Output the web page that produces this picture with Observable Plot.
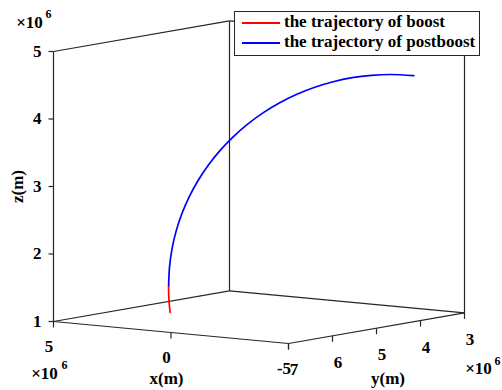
<!DOCTYPE html>
<html>
<head>
<meta charset="utf-8">
<script src="https://cdn.jsdelivr.net/npm/d3@7"></script>
<script src="https://cdn.jsdelivr.net/npm/@observablehq/plot@0.6"></script>
<style>
  html, body { margin: 0; padding: 0; background: #fff; }
  #wrap { position: relative; width: 502px; height: 390px; font-family: "Liberation Serif", "Times New Roman", serif; }
  #wrap svg text { font-family: "Liberation Serif", "Times New Roman", serif; }
  #legend { position: absolute; left: 234px; top: 11px; width: 246px; height: 45px; box-sizing: border-box;
            border: 1px solid #262626; background: #fff; font-weight: bold; font-size: 17px; color: #000; }
  #legend .row { position: absolute; left: 0; height: 20px; }
  #legend .row span { position: absolute; left: 49px; white-space: nowrap; line-height: 20px; top: 0; }
  #legend svg { position: absolute; left: 7px; top: 0; }
</style>
</head>
<body>
<div id="wrap"></div>
<script>
// ---- data (all lengths in units of 10^6 m) ----
const xLim = [-5, 5];
const yLim = [3, 7];
const zLim = [1, 5];
const xTicks = [5, 0, -5];
const yTicks = [7, 6, 5, 4, 3];
const zTicks = [1, 2, 3, 4, 5];
const seriesNames = ["the trajectory of boost", "the trajectory of postboost"];
const seriesColors = ["#ff0000", "#0000ff"];

const boostX = [0.079, 0.093, 0.100, 0.100];
const boostY = [6.977, 6.993, 7.000, 7.000];
const boostZ = [1.291, 1.441, 1.575, 1.693];

const postX = [0.100, 0.088, 0.052, -0.008, -0.091, -0.197, -0.325, -0.474, -0.642, -0.829,
               -1.033, -1.253, -1.486, -1.732, -1.987, -2.251, -2.521, -2.796, -3.072, -3.400];
const postY = [7.000, 6.987, 6.949, 6.886, 6.798, 6.686, 6.551, 6.394, 6.215, 6.018,
               5.802, 5.570, 5.323, 5.064, 4.794, 4.515, 4.229, 3.939, 3.647, 3.300];
const postZ = [1.693, 1.964, 2.232, 2.493, 2.746, 2.988, 3.219, 3.436, 3.638, 3.822,
               3.989, 4.136, 4.262, 4.366, 4.448, 4.507, 4.543, 4.554, 4.542, 4.497];

// ---- 3D view (orthographic projection, seen from the far side) ----
const W = 502, H = 390;
const view = { origin: [53, 321], ex: [23.5, 2.2], ey: [44, -7.65], ez: [0, -67.5] };
function proj(x, y, z) {
  const a = xLim[1] - x, b = yLim[1] - y, c = z - zLim[0];
  return [view.origin[0] + a * view.ex[0] + b * view.ey[0] + c * view.ez[0],
          view.origin[1] + a * view.ex[1] + b * view.ey[1] + c * view.ez[1]];
}

// trajectories
const traj = [];
boostX.forEach((v, i) => { const p = proj(v, boostY[i], boostZ[i]); traj.push({s: seriesNames[0], px: p[0], py: p[1]}); });
postX.forEach((v, i) => { const p = proj(v, postY[i], postZ[i]); traj.push({s: seriesNames[1], px: p[0], py: p[1]}); });

// box edges
const [x0, x1] = [xLim[1], xLim[0]], [y0, y1] = [yLim[1], yLim[0]], [z0, z1] = zLim;
const edges3 = [
  [[x0, y0, z0], [x0, y0, z1]],
  [[x0, y0, z1], [x0, y1, z1]],
  [[x0, y1, z1], [x1, y1, z1]],
  [[x0, y1, z0], [x0, y1, z1]],
  [[x1, y1, z0], [x1, y1, z1]],
  [[x0, y0, z0], [x0, y1, z0]],
  [[x0, y1, z0], [x1, y1, z0]],
  [[x0, y0, z0], [x1, y0, z0]],
  [[x1, y0, z0], [x1, y1, z0]]
];
const edges = edges3.map(([a, b]) => { const p = proj(...a), q = proj(...b); return {x1: p[0], y1: p[1], x2: q[0], y2: q[1]}; });

const TL = 6;
const ticks = [
  ...zTicks.map(z => { const p = proj(x0, y0, z); return {x1: p[0] - 5, y1: p[1], x2: p[0], y2: p[1]}; }),
  ...xTicks.map(x => { const p = proj(x, y0, z0); return {x1: p[0], y1: p[1], x2: p[0], y2: p[1] + TL}; }),
  ...yTicks.map(y => { const p = proj(x1, y, z0); return {x1: p[0], y1: p[1], x2: p[0], y2: p[1] + TL}; })
];
const zLabels = zTicks.map(z => { const p = proj(x0, y0, z); return {px: p[0], py: p[1], t: String(z)}; });
const xLabels = xTicks.map(x => { const p = proj(x, y0, z0); return {px: p[0], py: p[1], t: String(x)}; });
const yLabels = yTicks.map(y => { const p = proj(x1, y, z0); return {px: p[0], py: p[1], t: String(y)}; });

const pZtop = proj(x0, y0, z1), pXend = proj(x0, y0, z0), pYend = proj(x1, y1, z0);
const pXmid = proj((x0 + x1) / 2, y0, z0), pYmid = proj(x1, (y0 + y1) / 2, z0), pZmid = proj(x0, y0, (z0 + z1) / 2);

const FONT = "'Liberation Serif', 'Times New Roman', serif";
const txt = {fontSize: 17, fontWeight: "bold", fill: "#000", fontFamily: FONT};
const sup = {fontSize: 12, fontWeight: "bold", fill: "#000", fontFamily: FONT};
const one = (p, t) => [{px: p[0], py: p[1], t}];

const chart = Plot.plot({
  width: W, height: H, margin: 0,
  x: {type: "linear", domain: [0, W], range: [0, W], axis: null},
  y: {type: "linear", domain: [0, H], range: [0, H], axis: null},
  color: {domain: seriesNames, range: seriesColors},
  style: {fontFamily: FONT, background: "#fff", overflow: "visible"},
  marks: [
    Plot.link(edges, {x1: "x1", y1: "y1", x2: "x2", y2: "y2", stroke: "#262626", strokeWidth: 1.2}),
    Plot.link(ticks, {x1: "x1", y1: "y1", x2: "x2", y2: "y2", stroke: "#262626", strokeWidth: 1.2}),
    Plot.line(traj, {x: "px", y: "py", z: "s", stroke: "s", strokeWidth: 1.7, curve: "catmull-rom"}),
    Plot.text(zLabels, {x: "px", y: "py", text: "t", dx: -12, textAnchor: "end", ...txt}),
    Plot.text(xLabels, {x: "px", y: "py", text: "t", dx: -4.5, dy: 25, ...txt}),
    Plot.text(yLabels, {x: "px", y: "py", text: "t", dx: 5.5, dy: 26.5, ...txt}),
    Plot.text(one(pXmid, "x(m)"), {x: "px", y: "py", text: "t", dx: -4.5, dy: 46.5, ...txt}),
    Plot.text(one(pYmid, "y(m)"), {x: "px", y: "py", text: "t", dx: 11.5, dy: 50, ...txt}),
    Plot.text(one(pZmid, "z(m)"), {x: "px", y: "py", text: "t", dx: -36, rotate: -90, ...txt}),
    Plot.text(one(pZtop, "×10"), {x: "px", y: "py", text: "t", dx: -24, dy: -29, ...txt}),
    Plot.text(one(pZtop, "6"), {x: "px", y: "py", text: "t", dx: -5, dy: -37, ...sup}),
    Plot.text(one(pXend, "×10"), {x: "px", y: "py", text: "t", dx: -9, dy: 52, ...txt}),
    Plot.text(one(pXend, "6"), {x: "px", y: "py", text: "t", dx: 11, dy: 44, ...sup}),
    Plot.text(one(pYend, "×10"), {x: "px", y: "py", text: "t", dx: 14, dy: 56, ...txt}),
    Plot.text(one(pYend, "6"), {x: "px", y: "py", text: "t", dx: 33, dy: 48, ...sup})
  ]
});

const wrap = document.getElementById("wrap");
wrap.appendChild(chart);

// legend
const legend = document.createElement("div");
legend.id = "legend";
seriesNames.forEach((name, i) => {
  const row = document.createElement("div");
  row.className = "row";
  row.style.top = (i * 20) + "px";
  row.style.width = "100%";
  row.innerHTML = `<svg width="38" height="20"><line x1="0" x2="38" y1="11" y2="11" stroke="${seriesColors[i]}" stroke-width="2.2"/></svg><span>${name}</span>`;
  legend.appendChild(row);
});
wrap.appendChild(legend);
</script>
</body>
</html>
